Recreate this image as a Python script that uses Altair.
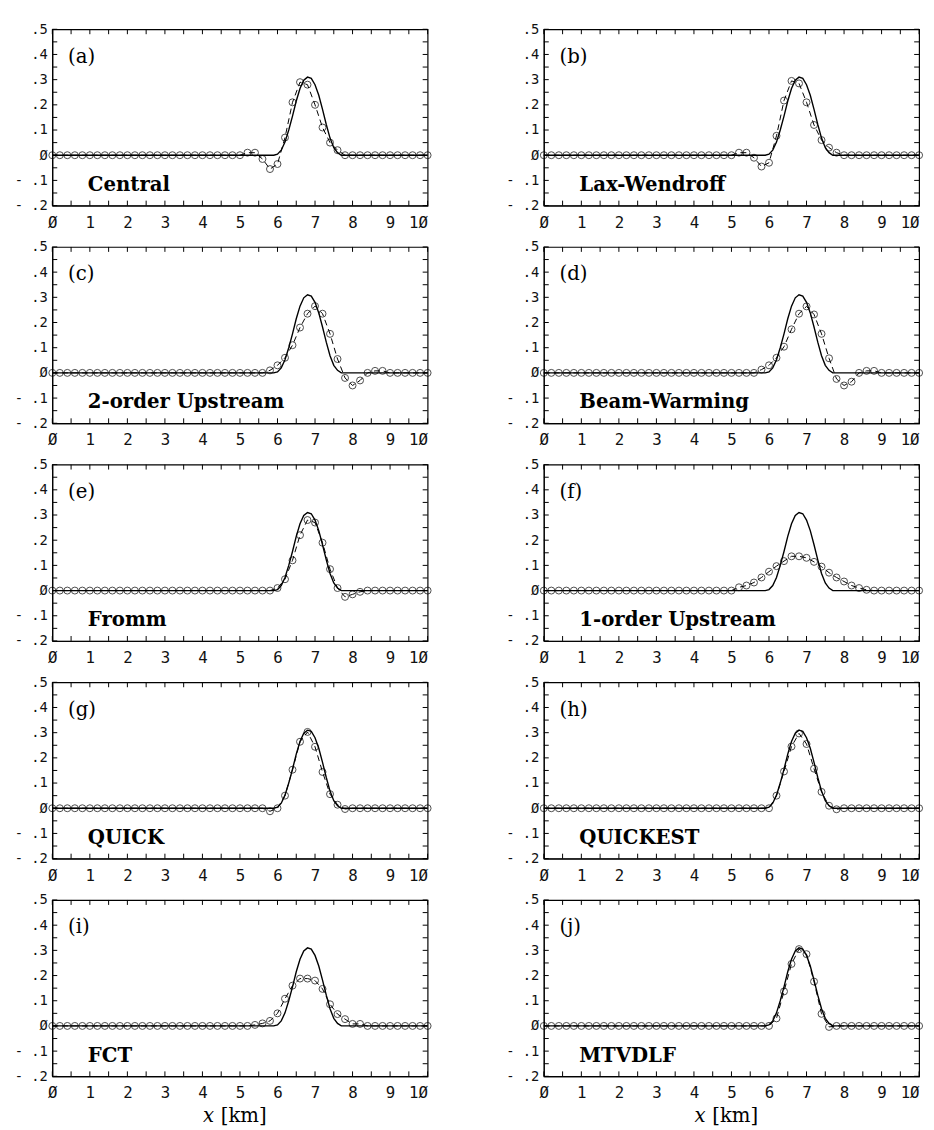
import altair as alt
import pandas as pd

# numerical grid (km)
X_GRID = [0.0, 0.2, 0.4, 0.6, 0.8, 1.0, 1.2, 1.4, 1.6, 1.8,
          2.0, 2.2, 2.4, 2.6, 2.8, 3.0, 3.2, 3.4, 3.6, 3.8,
          4.0, 4.2, 4.4, 4.6, 4.8, 5.0, 5.2, 5.4, 5.6, 5.8,
          6.0, 6.2, 6.4, 6.6, 6.8, 7.0, 7.2, 7.4, 7.6, 7.8,
          8.0, 8.2, 8.4, 8.6, 8.8, 9.0, 9.2, 9.4, 9.6, 9.8, 10.0]

# exact solution
EXACT_X = [0.0, 5.9, 6.0, 6.1, 6.2, 6.3, 6.4, 6.5, 6.6, 6.7, 6.8, 6.9, 7.0,
           7.1, 7.2, 7.3, 7.4, 7.5, 7.6, 7.7, 7.8, 10.0]
EXACT_U = [0.0, 0.0, 0.004, 0.02, 0.052, 0.10, 0.155, 0.215, 0.265, 0.298, 0.31, 0.305, 0.28,
           0.238, 0.182, 0.122, 0.068, 0.03, 0.01, 0.0, 0.0, 0.0]

# numerical solutions on X_GRID
CENTRAL = [0, 0, 0, 0, 0, 0, 0, 0, 0, 0, 0, 0, 0, 0, 0, 0, 0, 0, 0, 0, 0, 0, 0, 0, 0,
           0, .01, .01, -.015, -.055, -.035, .07, .21, .29, .28, .20, .11, .05, .02, 0,
           0, 0, 0, 0, 0, 0, 0, 0, 0, 0, 0]
LAX_WENDROFF = [0, 0, 0, 0, 0, 0, 0, 0, 0, 0, 0, 0, 0, 0, 0, 0, 0, 0, 0, 0, 0, 0, 0, 0, 0,
                0, .01, .01, -.01, -.045, -.03, .077, .217, .295, .285, .21, .12, .06, .03, .01,
                0, 0, 0, 0, 0, 0, 0, 0, 0, 0, 0]
UPSTREAM2 = [0, 0, 0, 0, 0, 0, 0, 0, 0, 0, 0, 0, 0, 0, 0, 0, 0, 0, 0, 0, 0, 0, 0, 0, 0,
             0, 0, 0, 0, .01, .03, .06, .11, .18, .235, .265, .235, .155, .055, -.02,
             -.05, -.03, 0, .008, .008, 0, 0, 0, 0, 0, 0]
BEAM_WARMING = [0, 0, 0, 0, 0, 0, 0, 0, 0, 0, 0, 0, 0, 0, 0, 0, 0, 0, 0, 0, 0, 0, 0, 0, 0,
                0, 0, 0, 0, .013, .03, .06, .104, .173, .235, .264, .232, .155, .058, -.024,
                -.05, -.035, 0, .008, .008, 0, 0, 0, 0, 0, 0]
FROMM = [0, 0, 0, 0, 0, 0, 0, 0, 0, 0, 0, 0, 0, 0, 0, 0, 0, 0, 0, 0, 0, 0, 0, 0, 0,
         0, 0, 0, 0, 0, .01, .045, .12, .22, .28, .27, .19, .085, .01, -.025,
         -.015, -.005, 0, 0, 0, 0, 0, 0, 0, 0, 0]
UPSTREAM1 = [0, 0, 0, 0, 0, 0, 0, 0, 0, 0, 0, 0, 0, 0, 0, 0, 0, 0, 0, 0, 0, 0, 0, 0, 0,
             0, .013, .02, .032, .052, .075, .097, .117, .136, .136, .13, .114, .095, .071, .052,
             .036, .02, .01, .003, 0, 0, 0, 0, 0, 0, 0]
QUICK = [0, 0, 0, 0, 0, 0, 0, 0, 0, 0, 0, 0, 0, 0, 0, 0, 0, 0, 0, 0, 0, 0, 0, 0, 0,
         0, 0, 0, 0, -.012, 0, .05, .153, .264, .303, .244, .144, .056, .014, -.003,
         0, 0, 0, 0, 0, 0, 0, 0, 0, 0, 0]
QUICKEST = [0, 0, 0, 0, 0, 0, 0, 0, 0, 0, 0, 0, 0, 0, 0, 0, 0, 0, 0, 0, 0, 0, 0, 0, 0,
            0, 0, 0, 0, 0, 0, .05, .146, .245, .297, .255, .157, .065, .01, -.004,
            0, 0, 0, 0, 0, 0, 0, 0, 0, 0, 0]
FCT = [0, 0, 0, 0, 0, 0, 0, 0, 0, 0, 0, 0, 0, 0, 0, 0, 0, 0, 0, 0, 0, 0, 0, 0, 0,
       0, 0, .004, .01, .02, .05, .108, .16, .188, .188, .18, .147, .086, .047, .027,
       .008, .008, 0, 0, 0, 0, 0, 0, 0, 0, 0]
MTVDLF = [0, 0, 0, 0, 0, 0, 0, 0, 0, 0, 0, 0, 0, 0, 0, 0, 0, 0, 0, 0, 0, 0, 0, 0, 0,
          0, 0, 0, 0, 0, 0, .03, .137, .246, .305, .285, .176, .048, -.004, 0,
          0, 0, 0, 0, 0, 0, 0, 0, 0, 0, 0]

LETTERS = ["(a)", "(b)", "(c)", "(d)", "(e)", "(f)", "(g)", "(h)", "(i)", "(j)"]
NAMES = ["Central", "Lax-Wendroff", "2-order Upstream", "Beam-Warming", "Fromm",
         "1-order Upstream", "QUICK", "QUICKEST", "FCT", "MTVDLF"]
SERIES = [CENTRAL, LAX_WENDROFF, UPSTREAM2, BEAM_WARMING, FROMM,
          UPSTREAM1, QUICK, QUICKEST, FCT, MTVDLF]

# labelled ticks and the small inward tick marks of the frame
X_TICKS = [0, 1, 2, 3, 4, 5, 6, 7, 8, 9, 10]
Y_TICKS = [-0.2, -0.1, 0.0, 0.1, 0.2, 0.3, 0.4, 0.5]
X_MINOR = [0, 0.5, 1, 1.5, 2, 2.5, 3, 3.5, 4, 4.5, 5, 5.5, 6, 6.5, 7, 7.5, 8, 8.5, 9, 9.5, 10]
Y_MINOR = [-0.2, -0.15, -0.1, -0.05, 0.0, 0.05, 0.1, 0.15, 0.2, 0.25, 0.3, 0.35, 0.4, 0.45, 0.5]

W, H = 381, 179
TICK_FONT = "DejaVu Sans Mono"
SERIF = "DejaVu Serif"

exact_df = pd.DataFrame({"x": EXACT_X, "u": EXACT_U})
xminor_df = pd.DataFrame({"v": X_MINOR})
yminor_df = pd.DataFrame({"v": Y_MINOR})

X_LABEL_EXPR = "datum.value == 0 ? 'Ø' : (datum.value == 10 ? '1Ø' : format(datum.value, 'd'))"
Y_LABEL_EXPR = ("abs(datum.value) < 1e-9 ? 'Ø' : (datum.value < 0 ? '- .' : '.') + "
                "format(round(abs(datum.value) * 10), 'd')")

XS = alt.Scale(domain=[0, 10], nice=False, zero=False)
YS = alt.Scale(domain=[-0.2, 0.5], nice=False, zero=False)
XAXIS = alt.Axis(
    values=X_TICKS, grid=False, ticks=False, labelPadding=9,
    labelFont=TICK_FONT, labelFontSize=16, labelColor="#111",
    labelOverlap=False, labelFlush=False,
    labelAlign={"condition": {"test": "datum.value == 10", "value": "right"}, "value": "center"},
    domainColor="black", labelExpr=X_LABEL_EXPR, title=None,
)
YAXIS = alt.Axis(
    values=Y_TICKS, grid=False, ticks=False, labelPadding=5,
    labelFont=TICK_FONT, labelFontSize=14, labelColor="#111",
    labelOverlap=False, labelFlush=False,
    domainColor="black", title=None, labelExpr=Y_LABEL_EXPR,
)


def panel(values, letter, name, bottom, shift):
    df = pd.DataFrame({"x": X_GRID, "u": values})
    xenc = alt.X("x:Q", scale=XS, axis=XAXIS)
    yenc = alt.Y("u:Q", scale=YS, axis=YAXIS)
    base = alt.Chart(df).encode(x=xenc, y=yenc)
    exact = alt.Chart(exact_df).mark_line(color="black", strokeWidth=1.4).encode(x=xenc, y=yenc)
    dashed = base.mark_line(color="black", strokeWidth=1, strokeDash=[6, 4])
    pts = base.mark_point(shape="circle", size=50, filled=False, color="black", strokeWidth=1)

    tl = alt.Chart(yminor_df).mark_rule(color="black", strokeWidth=1).encode(
        y=alt.Y("v:Q", scale=YS, axis=YAXIS), x=alt.value(0), x2=alt.value(5))
    tr = alt.Chart(yminor_df).mark_rule(color="black", strokeWidth=1).encode(
        y=alt.Y("v:Q", scale=YS, axis=YAXIS), x=alt.value(W - 5), x2=alt.value(W))
    tb = alt.Chart(xminor_df).mark_rule(color="black", strokeWidth=1).encode(
        x=alt.X("v:Q", scale=XS, axis=XAXIS), y=alt.value(H - 5), y2=alt.value(H))
    tt = alt.Chart(xminor_df).mark_rule(color="black", strokeWidth=1).encode(
        x=alt.X("v:Q", scale=XS, axis=XAXIS), y=alt.value(0), y2=alt.value(5))

    lab = alt.Chart(pd.DataFrame({"t": [letter]})).mark_text(
        font=SERIF, fontSize=20, align="left", baseline="middle", color="black"
    ).encode(text="t:N", x=alt.value(16), y=alt.value(28))
    nm = alt.Chart(pd.DataFrame({"t": [name]})).mark_text(
        font=SERIF, fontSize=20, fontWeight="bold", align="left", baseline="middle", color="black"
    ).encode(text="t:N", x=alt.value(36), y=alt.value(158))
    layers = [exact, dashed, pts, tl, tr, tb, tt, lab, nm]
    if shift:
        # invisible spacer that lowers the right-hand column slightly, as in the scan
        sp = alt.Chart(pd.DataFrame({"t": ["."]})).mark_text(
            fontSize=10, opacity=0, baseline="top"
        ).encode(text="t:N", x=alt.value(0), y=alt.value(-12))
        layers.append(sp)
    if bottom:
        tx = alt.Chart(pd.DataFrame({"t": ["x"]})).mark_text(
            font=SERIF, fontSize=20, fontStyle="italic", align="left", baseline="middle", color="black"
        ).encode(text="t:N", x=alt.value(153), y=alt.value(H + 40))
        tk = alt.Chart(pd.DataFrame({"t": ["[km]"]})).mark_text(
            font=SERIF, fontSize=20, align="left", baseline="middle", color="black"
        ).encode(text="t:N", x=alt.value(171), y=alt.value(H + 40))
        layers += [tx, tk]
    return alt.layer(*layers).properties(width=W, height=H)


rows = []
for r in range(5):
    left = panel(SERIES[2 * r], LETTERS[2 * r], NAMES[2 * r], r == 4, False)
    right = panel(SERIES[2 * r + 1], LETTERS[2 * r + 1], NAMES[2 * r + 1], r == 4, True)
    rows.append(alt.hconcat(left, right, spacing=71))

chart = alt.vconcat(*rows, spacing=3).properties(
    padding={"left": 5, "top": 0, "right": 0, "bottom": 0},
    background="white",
).configure_view(stroke="black", strokeWidth=1.2)

chart.save("out.html", embed_options={"renderer": "svg", "actions": False})
